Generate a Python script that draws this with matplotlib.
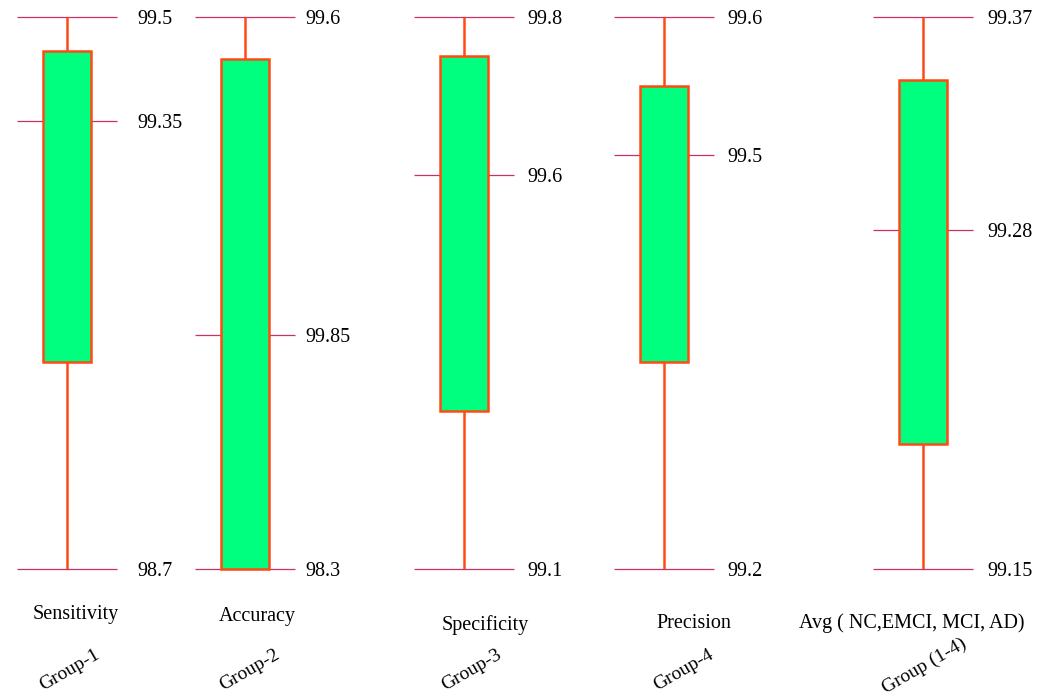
import matplotlib.pyplot as plt

plt.rcParams['font.family'] = ['Liberation Serif', 'DejaVu Serif']

metrics = ['Sensitivity', 'Accuracy', 'Specificity', 'Precision', 'Avg ( NC,EMCI, MCI, AD)']
groups = ['Group-1', 'Group-2', 'Group-3', 'Group-4', 'Group (1-4)']

whisker_lo = [98.7, 98.3, 99.1, 99.2, 99.15]
whisker_hi = [99.5, 99.6, 99.8, 99.6, 99.37]
box_lo = [99.0, 98.3, 99.3, 99.35, 99.2]
box_hi = [99.45, 99.5, 99.75, 99.55, 99.345]
mid_vals = [99.35, 98.85, 99.6, 99.5, 99.285]
lo_labels = ['98.7', '98.3', '99.1', '99.2', '99.15']
mid_labels = ['99.35', '99.85', '99.6', '99.5', '99.28']
hi_labels = ['99.5', '99.6', '99.8', '99.6', '99.37']

W, H = 1046, 697
fig = plt.figure(figsize=(W / 100, H / 100), dpi=100)

# pixel layout for each panel
lefts = [17, 195, 414, 614, 873]
label_gap = [20, 10, 13, 13, 14]
metric_xy = [(76, 614), (257, 616), (485, 625), (694, 623), (912, 623)]
group_xy = [(70, 670), (250, 670), (472, 670), (684, 670), (924, 666)]

for i in range(5):
    ax = fig.add_axes([lefts[i] / W, 128 / H, 100 / W, 552 / H])
    ax.set_xlim(0, 1)
    ax.set_ylim(whisker_lo[i], whisker_hi[i])
    ax.hlines([whisker_lo[i], mid_vals[i], whisker_hi[i]], 0, 1, color='#c8306a', lw=0.9, zorder=1,
              clip_on=False)
    ax.vlines(0.5, whisker_lo[i], whisker_hi[i], color='#ff4a14', lw=1.8, zorder=2)
    ax.bar(0.5, box_hi[i] - box_lo[i], bottom=box_lo[i], width=0.48, color='#00ff7f',
           edgecolor='#ff4a14', lw=1.8, zorder=3, clip_on=False)
    for s in ax.spines.values():
        s.set_visible(False)
    ax.set_xticks([])
    ax.yaxis.tick_right()
    ax.set_yticks([whisker_lo[i], mid_vals[i], whisker_hi[i]])
    ax.set_yticklabels([lo_labels[i], mid_labels[i], hi_labels[i]])
    ax.tick_params(axis='y', length=0, pad=label_gap[i] * 0.72, labelsize=14.5)
    fig.text(metric_xy[i][0] / W, 1 - metric_xy[i][1] / H, metrics[i], fontsize=14.5,
             ha='center', va='center')
    fig.text(group_xy[i][0] / W, 1 - group_xy[i][1] / H, groups[i], fontsize=14,
             ha='center', va='center', rotation=30)

plt.savefig('out.png', dpi=100)
